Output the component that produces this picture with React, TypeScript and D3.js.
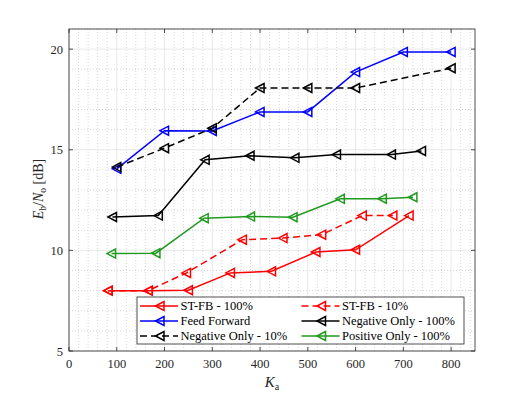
import React from "react";
import * as d3 from "d3";

const stfb100X = [82, 166, 250, 338, 424, 517, 600, 712];
const stfb100Y = [8.0, 8.0, 8.02, 8.88, 8.96, 9.92, 10.03, 11.73];
const stfb10X = [82, 166, 246, 363, 448, 529, 614, 678];
const stfb10Y = [8.0, 8.0, 8.88, 10.53, 10.61, 10.78, 11.73, 11.73];
const ffX = [100, 200, 300, 400, 500, 600, 700, 800];
const ffY = [14.05, 15.95, 15.93, 16.88, 16.88, 18.86, 19.86, 19.86];
const neg100X = [91, 187, 285, 379, 473, 560, 675, 738];
const neg100Y = [11.66, 11.73, 14.5, 14.7, 14.6, 14.76, 14.76, 14.94];
const neg10X = [100, 200, 300, 400, 500, 600, 800];
const neg10Y = [14.14, 15.08, 16.07, 18.07, 18.07, 18.07, 19.05];
const pos100X = [89, 182, 283, 380, 469, 568, 656, 720];
const pos100Y = [9.84, 9.86, 11.6, 11.68, 11.65, 12.56, 12.57, 12.64];

const xTicks = [0, 100, 200, 300, 400, 500, 600, 700, 800];
const yTicks = [5, 10, 15, 20];

const series = [
  { name: "ST-FB - 100%", x: stfb100X, y: stfb100Y, color: "#ff0000", dash: "" },
  { name: "ST-FB - 10%", x: stfb10X, y: stfb10Y, color: "#ff0000", dash: "7,4" },
  { name: "Feed Forward", x: ffX, y: ffY, color: "#0000ff", dash: "" },
  { name: "Negative Only - 100%", x: neg100X, y: neg100Y, color: "#000000", dash: "" },
  { name: "Negative Only - 10%", x: neg10X, y: neg10Y, color: "#000000", dash: "7,4" },
  { name: "Positive Only - 100%", x: pos100X, y: pos100Y, color: "#1f9a1f", dash: "" },
];

const W = 525, H = 394;
const L = 69, R = 475, T = 29, B = 351;

const tri = "M-4.5,0L4,-4.5L4,4.5Z";
const SERIF = '"Liberation Serif", "DejaVu Serif", serif';

export default function App() {
  const x = d3.scaleLinear().domain([0, 850]).range([L, R]);
  const y = d3.scaleLinear().domain([5, 21]).range([B, T]);
  const line = d3.line<[number, number]>().x(d => x(d[0])).y(d => y(d[1]));
  const xMinor = d3.range(0, 851, 20).filter(v => v % 100 !== 0);
  const yMinor = d3.range(5, 21.01, 1).filter(v => v % 5 !== 0);
  const axisColor = "#262626";
  const ts = { fontFamily: SERIF };

  const legRows = [306, 321, 336];

  return (
    <svg width={W} height={H} style={{ position: "absolute", left: 0, top: 0, fontFamily: SERIF }}>
      <rect x={0} y={0} width={W} height={H} fill="#fff" />
      <rect x={L} y={T} width={R - L} height={B - T} fill="#fff" />
      {xMinor.map(v => (
        <line key={"xm" + v} x1={x(v)} x2={x(v)} y1={T} y2={B} stroke="#bdbdbd" strokeWidth={0.6} strokeDasharray="1,2" />
      ))}
      {yMinor.map(v => (
        <line key={"ym" + v} x1={L} x2={R} y1={y(v)} y2={y(v)} stroke="#bdbdbd" strokeWidth={0.6} strokeDasharray="1,2" />
      ))}
      {xTicks.map(v => (
        <line key={"xg" + v} x1={x(v)} x2={x(v)} y1={T} y2={B} stroke="#e3e3e3" strokeWidth={0.8} />
      ))}
      {yTicks.map(v => (
        <line key={"yg" + v} x1={L} x2={R} y1={y(v)} y2={y(v)} stroke="#e3e3e3" strokeWidth={0.8} />
      ))}
      {series.map(s => {
        const pts: [number, number][] = s.x.map((v, i) => [v, s.y[i]]);
        return (
          <g key={s.name}>
            <path d={line(pts) || ""} fill="none" stroke={s.color} strokeWidth={1.5} strokeDasharray={s.dash || undefined} />
            {pts.map((p, i) => (
              <path key={i} d={tri} transform={`translate(${x(p[0])},${y(p[1])})`} fill="none" stroke={s.color} strokeWidth={1.5} />
            ))}
          </g>
        );
      })}
      <rect x={L} y={T} width={R - L} height={B - T} fill="none" stroke={axisColor} strokeWidth={0.8} />
      {xTicks.map(v => (
        <g key={"xt" + v}>
          <line x1={x(v)} x2={x(v)} y1={B} y2={B - 4} stroke={axisColor} strokeWidth={0.8} />
          <line x1={x(v)} x2={x(v)} y1={T} y2={T + 4} stroke={axisColor} strokeWidth={0.8} />
          <text x={x(v)} y={368} textAnchor="middle" fontSize={12.5} fill={axisColor} style={ts}>{v}</text>
        </g>
      ))}
      {yTicks.map(v => (
        <g key={"yt" + v}>
          <line x1={L} x2={L + 4} y1={y(v)} y2={y(v)} stroke={axisColor} strokeWidth={0.8} />
          <line x1={R} x2={R - 4} y1={y(v)} y2={y(v)} stroke={axisColor} strokeWidth={0.8} />
          <text x={63} y={y(v) + 4.5} textAnchor="end" fontSize={12.5} fill={axisColor} style={ts}>{v}</text>
        </g>
      ))}
      <text x={272} y={387} textAnchor="middle" fontSize={15} fill={axisColor} style={ts}>
        <tspan fontStyle="italic">K</tspan>
        <tspan fontSize={10} dy={3}>a</tspan>
      </text>
      <text transform="translate(43,189) rotate(-90)" textAnchor="middle" fontSize={14} fill={axisColor} style={ts}>
        <tspan fontStyle="italic">E</tspan>
        <tspan fontSize={9.5} dy={3}>b</tspan>
        <tspan dy={-3}>/</tspan>
        <tspan fontStyle="italic">N</tspan>
        <tspan fontSize={9.5} dy={3}>o</tspan>
        <tspan dy={-3}> [dB]</tspan>
      </text>
      <rect x={137} y={297} width={327} height={47} fill="#fff" stroke={axisColor} strokeWidth={0.8} />
      {series.map((s, i) => {
        const col = i % 2;
        const row = Math.floor(i / 2);
        const lx = col === 0 ? 140 : 301.5;
        const ly = legRows[row];
        return (
          <g key={"leg" + s.name}>
            <line x1={lx} x2={lx + 38} y1={ly} y2={ly} stroke={s.color} strokeWidth={1.5} strokeDasharray={s.dash || undefined} />
            <path d={tri} transform={`translate(${lx + 20},${ly})`} fill="none" stroke={s.color} strokeWidth={1.5} />
            <text x={lx + 40.5} y={ly + 4.3} fontSize={12.5} fill="#000" style={ts}>{s.name}</text>
          </g>
        );
      })}
    </svg>
  );
}
